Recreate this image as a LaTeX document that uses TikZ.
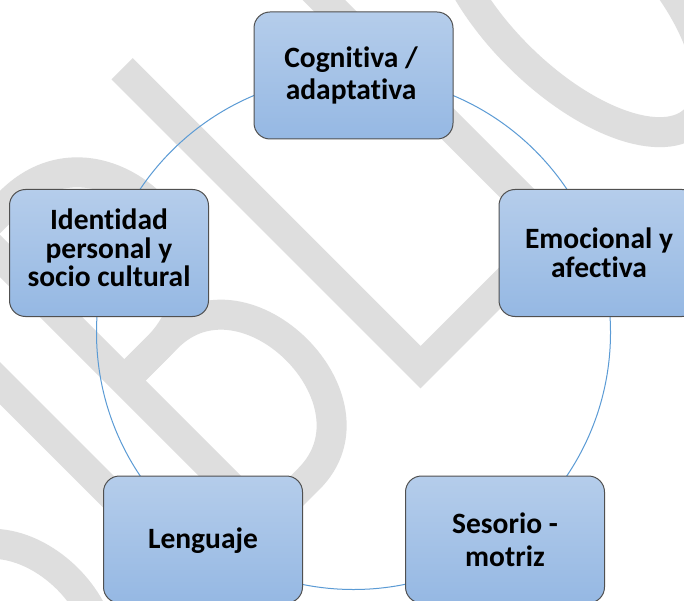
\documentclass[tikz,border=0pt]{standalone}
\usepackage{fontspec}
\setmainfont{Carlito}[Ligatures=NoCommon]
\definecolor{boxtop}{RGB}{181,205,235}
\definecolor{boxbot}{RGB}{149,184,227}
\definecolor{boxline}{RGB}{80,80,80}
\definecolor{circ}{RGB}{91,155,213}
\definecolor{wm}{RGB}{222,222,222}
\newcommand\boxlines[2]{\vbox{\baselineskip=#1pt \halign{\hfil##\hfil\cr #2}}}
\tikzset{
  box/.style={draw=boxline, line width=1pt, rounded corners=16pt,
    top color=boxtop, bottom color=boxbot,
    minimum width=199pt, minimum height=127pt, inner sep=0pt},
  lbl/.style={inner sep=0pt, font=\fontsize{29.5}{31}\selectfont\bfseries, text=black},
  wmstroke/.style={draw=wm, line width=30pt, line join=miter, line cap=butt},
  ring/.style={draw=circ, line width=1pt}
}
\begin{document}
\begin{tikzpicture}[x=1pt, y=-1pt]
\path[use as bounding box] (0,0) rectangle (684,601);
\clip (0,0) rectangle (684,601);
\fill[white] (0,0) rectangle (684,601);
% watermark
\begin{scope}[rotate=45, wmstroke]
  % first B
  \draw (-505,135) -- (-505,572);
  \draw (-505,150) -- (-459,150) .. controls (-329,150) and (-329,357) .. (-459,357) -- (-505,357);
  \draw (-505,357) -- (-444,357) .. controls (-334,357) and (-334,557) .. (-444,557) -- (-505,557);
  % I
  \draw (-271,135) -- (-271,572);
  % second B
  \draw (-181,135) -- (-181,572);
  \draw (-181,150) -- (-135,150) .. controls (-5,150) and (-5,357) .. (-135,357) -- (-181,357);
  \draw (-181,357) -- (-120,357) .. controls (-10,357) and (-10,557) .. (-120,557) -- (-181,557);
  % L
  \draw (37.7,135) -- (37.7,557) -- (190,557);
  % I
  \draw (229,135) -- (229,572);
  % O
  \draw (407,406) ellipse [x radius=80, y radius=170];
\end{scope}
% ring
\coordinate (c) at (353.5,332.5);
\draw[ring] (c) circle [radius=257];
% boxes
\node[box] (cog) at (353.5,75.5) {};
\node[box] (ide) at (109,253) {};
\node[box] (emo) at (598.5,253) {};
\node[box] (len) at (203,539.5) {};
\node[box] (ses) at (505,539.5) {};
% texts
\node[lbl, anchor=base] (cogt) at (351,100) {\boxlines{32}{Cognitiva /\cr adaptativa\cr}};
\node[lbl, anchor=base] (idet) at (109,286) {\boxlines{28}{Identidad\cr personal y\cr socio cultural\cr}};
\node[lbl, anchor=base] (emot) at (599,277) {\boxlines{29}{Emocional y\cr afectiva\cr}};
\node[lbl, anchor=base] (lent) at (203,548) {Lenguaje};
\node[lbl, anchor=base] (sest) at (505,566) {\boxlines{33}{Sesorio -\cr motriz\cr}};
\end{tikzpicture}
\end{document}
